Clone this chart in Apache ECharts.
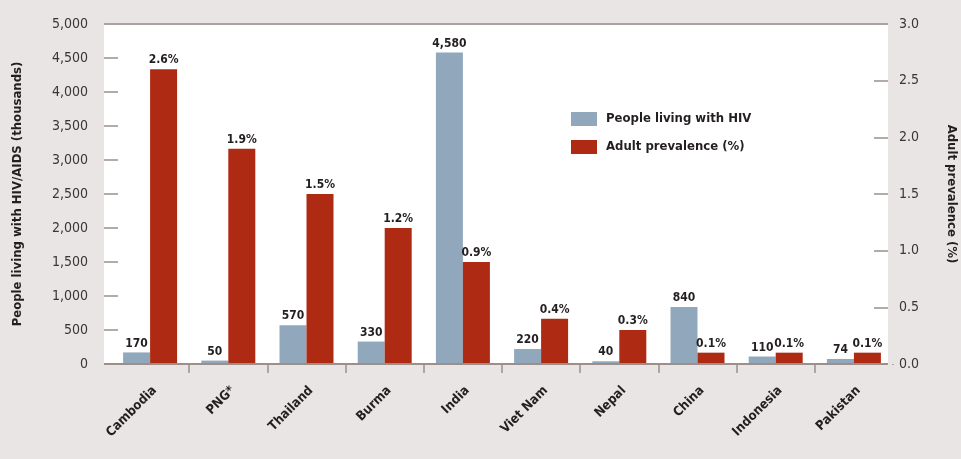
<!DOCTYPE html>
<html>
<head>
    <meta charset="utf-8"/>
    <title>HIV in Asia</title>
    <script src="https://cdn.jsdelivr.net/npm/echarts@6/dist/echarts.min.js"></script>
    <style>
        html, body { margin: 0; padding: 0; background: #e9e5e4; }
        #chart { width: 961px; height: 459px; }
    </style>
</head>
<body>
<div id="chart"></div>
<script>
    // 数据
    var countries = ['Cambodia', 'PNG*', 'Thailand', 'Burma', 'India', 'Viet Nam', 'Nepal', 'China', 'Indonesia', 'Pakistan'];
    var peopleLiving = [170, 50, 570, 330, 4580, 220, 40, 840, 110, 74];
    var prevalence = [2.6, 1.9, 1.5, 1.2, 0.9, 0.4, 0.3, 0.1, 0.1, 0.1];

    var FONT = '"DejaVu Sans Condensed", "Liberation Sans", sans-serif';
    var BG = '#e9e5e4';
    var AXIS_COLOR = '#9c8f8a';
    var TEXT_DARK = '#231f20';

    function addCommas(v) {
        return String(v).replace(/\B(?=(\d{3})+(?!\d))/g, ',');
    }

    var chart = echarts.init(document.getElementById('chart'));

    var option = {
        backgroundColor: BG,
        animation: false,
        textStyle: { fontFamily: FONT },
        grid: { left: 111, right: 68, top: 24, bottom: 95, outerBoundsMode: 'none' },
        // 白色绘图区和上下边线
        graphic: [
            { type: 'rect', z: -1, shape: { x: 104, y: 24, width: 784, height: 340 }, style: { fill: '#ffffff' } },
            { type: 'line', z: 5, shape: { x1: 104, y1: 24, x2: 888, y2: 24 }, style: { stroke: '#aaa29e', lineWidth: 2 } },
            { type: 'line', z: 5, shape: { x1: 104, y1: 364, x2: 888, y2: 364 }, style: { stroke: AXIS_COLOR, lineWidth: 2 } },
            // 遮住最右端多出的刻度
            { type: 'rect', z: 5, shape: { x: 889, y: 365, width: 8, height: 12 }, style: { fill: BG } }
        ],
        legend: {
            orient: 'vertical',
            left: 571,
            top: 112,
            padding: 0,
            itemWidth: 26,
            itemHeight: 14,
            itemGap: 14,
            icon: 'rect',
            textStyle: { fontFamily: FONT, fontWeight: 'bold', fontSize: 13, color: TEXT_DARK, padding: [0, 0, 0, 4] },
            data: ['People living with HIV', 'Adult prevalence (%)']
        },
        xAxis: {
            type: 'category',
            data: countries,
            axisLine: { show: false },
            axisTick: {
                show: true,
                length: 9,
                interval: function (i) { return i > 0; },
                lineStyle: { color: AXIS_COLOR, width: 1.5 }
            },
            axisLabel: {
                rotate: 45,
                margin: 20,
                verticalAlign: 'top',
                fontFamily: FONT,
                fontWeight: 'bold',
                fontSize: 13,
                color: TEXT_DARK
            }
        },
        yAxis: [{
            type: 'value',
            min: 0,
            max: 5000,
            interval: 500,
            offset: 7,
            name: 'People living with HIV/AIDS (thousands)',
            nameLocation: 'middle',
            nameRotate: 90,
            nameGap: 80,
            nameTextStyle: { fontFamily: FONT, fontWeight: 'bold', fontSize: 13, color: TEXT_DARK },
            axisLine: { show: false },
            axisTick: { show: true, inside: true, length: 14, lineStyle: { color: AXIS_COLOR, width: 1.5 } },
            splitLine: { show: false },
            axisLabel: {
                margin: 16,
                fontFamily: FONT,
                fontSize: 14,
                color: '#3a3536',
                formatter: function (v) { return addCommas(v); }
            }
        }, {
            type: 'value',
            min: 0,
            max: 3,
            interval: 0.5,
            offset: -5,
            position: 'right',
            name: 'Adult prevalence (%)',
            nameLocation: 'middle',
            nameRotate: -90,
            nameGap: 57,
            nameTextStyle: { fontFamily: FONT, fontWeight: 'bold', fontSize: 13, color: TEXT_DARK },
            axisLine: { show: false },
            axisTick: { show: true, inside: true, length: 14, lineStyle: { color: AXIS_COLOR, width: 1.5 } },
            splitLine: { show: false },
            axisLabel: {
                margin: 11,
                fontFamily: FONT,
                fontSize: 14,
                color: '#3a3536',
                formatter: function (v) { return v.toFixed(1); }
            }
        }],
        series: [{
            name: 'People living with HIV',
            type: 'bar',
            yAxisIndex: 0,
            barWidth: 27,
            barGap: '0%',
            itemStyle: { color: '#91a8bc' },
            label: {
                show: true,
                position: 'top',
                distance: 3,
                fontFamily: FONT,
                fontWeight: 'bold',
                fontSize: 12,
                color: TEXT_DARK,
                formatter: function (p) { return addCommas(p.value); }
            },
            data: peopleLiving
        }, {
            name: 'Adult prevalence (%)',
            type: 'bar',
            yAxisIndex: 1,
            barWidth: 27,
            barGap: '0%',
            itemStyle: { color: '#ae2a12' },
            label: {
                show: true,
                position: 'top',
                distance: 3,
                fontFamily: FONT,
                fontWeight: 'bold',
                fontSize: 12,
                color: TEXT_DARK,
                formatter: function (p) { return p.value.toFixed(1) + '%'; }
            },
            data: prevalence
        }]
    };

    chart.setOption(option);

    window.onresize = function () {
        chart.resize();
    };
</script>
</body>
</html>
